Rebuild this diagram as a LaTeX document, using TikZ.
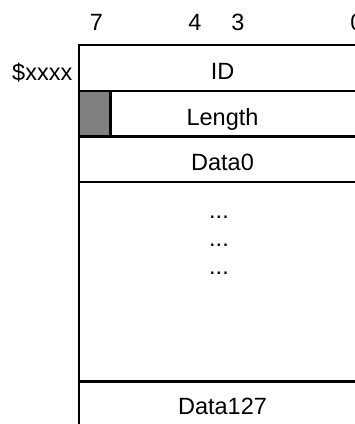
\documentclass[tikz,border=0pt]{standalone}
\usepackage{fontspec}
\setmainfont{Liberation Sans}
\begin{document}
\begin{tikzpicture}[x=1pt,y=-1pt,
  lbl/.style={anchor=base,inner sep=0pt,font=\fontsize{23.5}{28}\selectfont},
  rule/.style={line width=2.2pt,black}]
\useasboundingbox (0,0) rectangle (355,424);
% frame coordinates
\coordinate (tl) at (79,45);
\coordinate (tr) at (366,45);
\coordinate (r1l) at (79,91);
\coordinate (r1r) at (366,91);
\coordinate (r2l) at (79,136.5);
\coordinate (r2r) at (366,136.5);
\coordinate (r3l) at (79,182);
\coordinate (r3r) at (366,182);
\coordinate (r4l) at (79,381.5);
\coordinate (r4r) at (366,381.5);
\coordinate (bl) at (79,430);
% grey bit 7 of length
\draw[rule,fill={rgb,255:red,128;green,128;blue,128}] (r1l) rectangle (110.5,136.5);
% lines
\draw[rule] (bl) -- (tl) -- (tr);
\draw[rule] (r1l) -- (r1r);
\draw[rule] (r2l) -- (r2r);
\draw[rule] (r3l) -- (r3r);
\draw[rule] (r4l) -- (r4r);
% bit labels
\node[lbl] (b7) at (96.5,30) {7};
\node[lbl] (b4) at (195,30) {4};
\node[lbl] (b3) at (238,30) {3};
\node[lbl] (b0) at (357,30) {0};
% address
\node[lbl,anchor=base east] (addr) at (72.5,80) {\$xxxx};
% field texts
\node[lbl] (id) at (222.5,79) {ID};
\node[lbl] (len) at (222.5,125) {Length};
\node[lbl] (d0) at (222.5,170.7) {Data0};
\node[lbl] (dots1) at (219,218.5) {...};
\node[lbl] (dots2) at (219,246.8) {...};
\node[lbl] (dots3) at (219,274.5) {...};
\node[lbl] (d127) at (222.5,414) {Data127};
\end{tikzpicture}
\end{document}
